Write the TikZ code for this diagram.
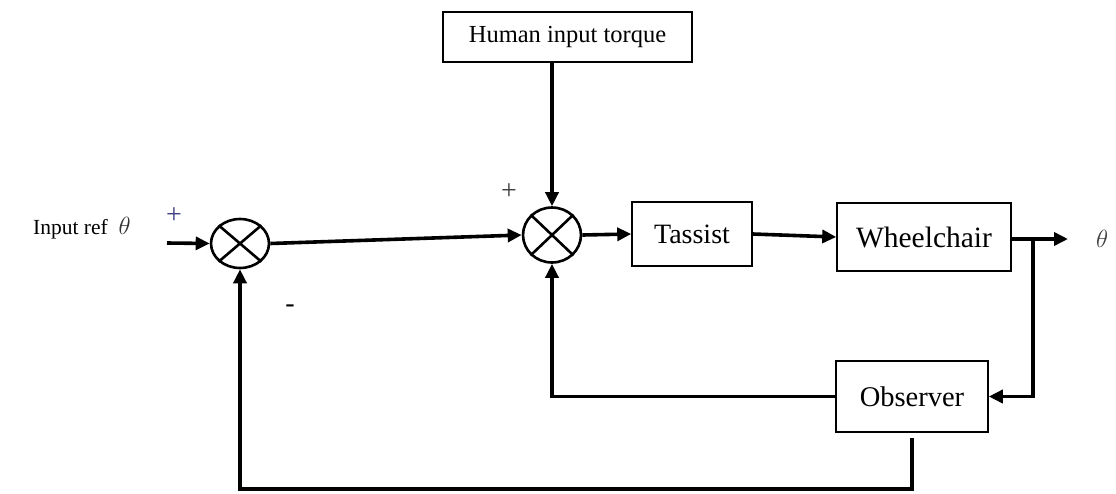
\documentclass[tikz,border=0pt]{standalone}
\usepackage{fontspec}
\setmainfont{Liberation Serif}
\usetikzlibrary{arrows.meta,shapes.geometric,calc}
\tikzset{
  blockbox/.style={draw, line width=1.5pt, rectangle, inner sep=0pt},
  sumnode/.style={draw, line width=2.6pt, ellipse, inner sep=0pt},
  conn/.style={line width=3.6pt},
  arr/.style={conn, -{Triangle[length=14pt,width=13pt]}},
  lbl/.style={inner sep=0pt},
}
\begin{document}
\begin{tikzpicture}[x=1pt,y=-1pt]
\useasboundingbox (0,0) rectangle (1116,493);
% blocks
\node[blockbox, minimum width=249pt, minimum height=50pt, font=\fontsize{24.5}{28}\selectfont] (hum) at (567.5,37) {Human input torque};
\node[blockbox, minimum width=120pt, minimum height=64pt, font=\fontsize{28}{32}\selectfont] (tas) at (692,234) {Tassist};
\node[blockbox, minimum width=174pt, minimum height=68pt, font=\fontsize{29.5}{33}\selectfont] (whl) at (924,237) {Wheelchair};
\node[blockbox, minimum width=152pt, minimum height=71pt, font=\fontsize{28.5}{32}\selectfont] (obs) at (912,396.5) {Observer};
% summing junctions
\node[sumnode, minimum width=58pt, minimum height=49pt] (s1) at (240,243.5) {};
\node[sumnode, minimum width=58pt, minimum height=55pt] (s2) at (552,235) {};
\draw[line width=2.6pt] (s1.north east) -- (s1.south west) (s1.north west) -- (s1.south east);
\draw[line width=2.6pt] (s2.north east) -- (s2.south west) (s2.north west) -- (s2.south east);
% labels
\node[lbl, anchor=west, font=\fontsize{21.5}{25}\selectfont] (inlbl) at (33,228) {Input ref~~\textcolor{black!80}{\fontsize{25}{28}\selectfont$\theta$}};
\node[lbl, font=\fontsize{28}{30}\selectfont\color{blue!35!black!75}] (p1) at (174,216) {+};
\node[lbl, font=\fontsize{28}{30}\selectfont\color{black!75}] (p2) at (509,192) {+};
\node[lbl, font=\fontsize{28}{30}\selectfont] (m1) at (290,309) {-};
\node[lbl, font=\fontsize{25}{28}\selectfont\color{black!75}] (thout) at (1102,239) {$\theta$};
% coordinates
\coordinate (in) at (167,243);
\coordinate (out) at (1068,239);
\coordinate (br) at (1033,239);
\coordinate (obsb) at (912,438);
% connectors
\draw[arr] (in) -- (s1.west);
\draw[arr] (s1.east) -- (s2.west);
\draw[arr] (s2.north |- hum.south) -- (s2.north);
\draw[arr] (s2.east) -- (tas.west);
\draw[arr] (tas.east) -- (whl.west);
\draw[arr] (whl.east |- out) -- (out);
\draw[arr] (br) |- (obs.east);
\draw[arr] (obs.west) -| (s2.south);
\draw[arr] (obsb) -- (912,489) -| (s1.south);
\end{tikzpicture}
\end{document}
